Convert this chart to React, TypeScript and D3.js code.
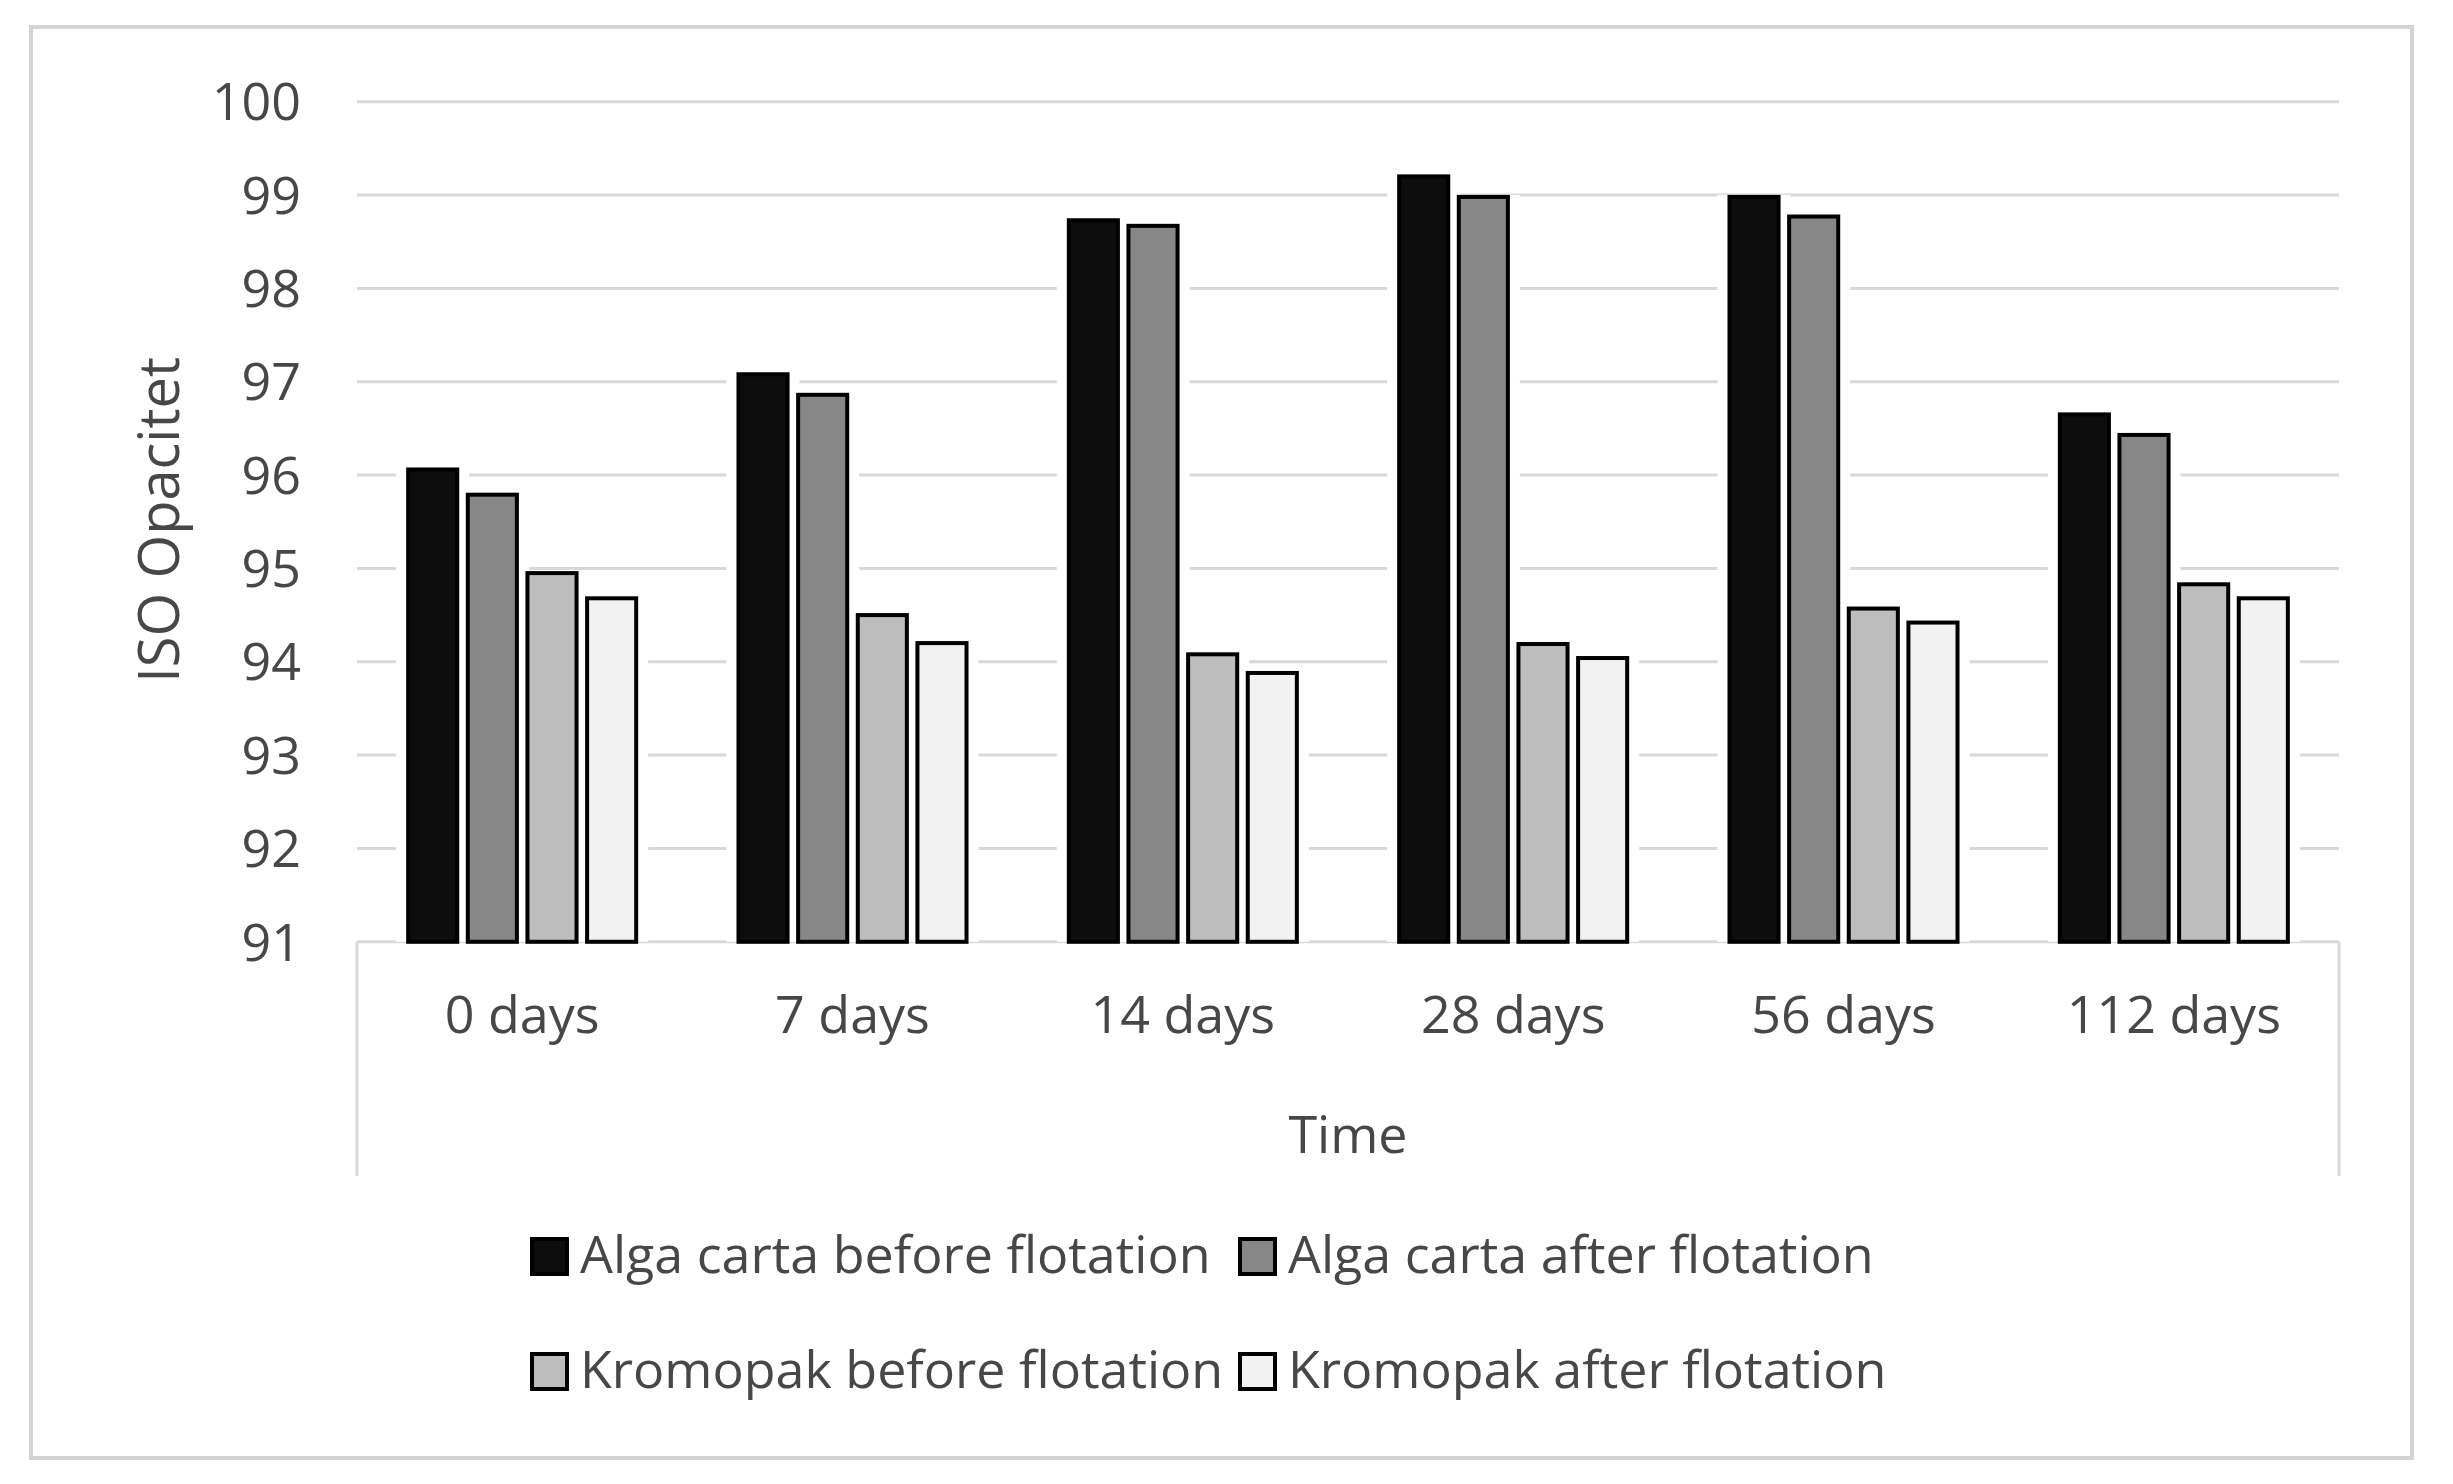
import React from "react";
import * as d3 from "d3";

const categories = ["0 days", "7 days", "14 days", "28 days", "56 days", "112 days"];
const seriesNames = [
  "Alga carta before flotation",
  "Alga carta after flotation",
  "Kromopak before flotation",
  "Kromopak after flotation",
];
const algaBefore = [96.06, 97.08, 98.73, 99.2, 98.98, 96.65];
const algaAfter = [95.79, 96.86, 98.67, 98.98, 98.77, 96.43];
const kromopakBefore = [94.95, 94.5, 94.08, 94.19, 94.57, 94.83];
const kromopakAfter = [94.68, 94.2, 93.88, 94.04, 94.42, 94.68];
const seriesValues = [algaBefore, algaAfter, kromopakBefore, kromopakAfter];
const seriesColors = ["#0d0d0d", "#878787", "#bdbdbd", "#f2f2f2"];
const yTicks = [91, 92, 93, 94, 95, 96, 97, 98, 99, 100];
const yTitle = "ISO Opacitet";
const xTitle = "Time";

const W = 2453;
const H = 1484;
const FONT = "'Open Sans', 'Noto Sans', sans-serif";
const TEXT = "#474747";

export default function App() {
  const left = 357;
  const right = 2339;
  const top = 101.7;
  const bottom = 941.8;

  const y = d3.scaleLinear().domain([91, 100]).range([bottom, top]);
  const x0 = d3
    .scaleBand<string>()
    .domain(categories)
    .range([left, right])
    .paddingInner(0.2976)
    .paddingOuter(0.1488);
  const x1 = d3
    .scaleBand<number>()
    .domain(d3.range(seriesNames.length))
    .range([0, x0.bandwidth()])
    .paddingInner(0.11)
    .paddingOuter(0);

  const legendCols = [530, 1238];
  const legendRows = [1273, 1388];

  return (
    <svg
      width={W}
      height={H}
      style={{ position: "absolute", left: 0, top: 0, background: "#fff" }}
      fontFamily={FONT}
    >
      <rect x={0} y={0} width={W} height={H} fill="#fff" />
      <rect x={31} y={27} width={2381} height={1431} fill="#fff" stroke="#d4d4d4" strokeWidth={4} />

      {/* gridlines */}
      {yTicks.map((t) => (
        <line key={"g" + t} x1={left} x2={right} y1={y(t)} y2={y(t)} stroke="#d9d9d9" strokeWidth={3} />
      ))}

      {/* category axis box */}
      <line x1={left} x2={left} y1={bottom} y2={1176} stroke="#d9d9d9" strokeWidth={3} />
      <line x1={right} x2={right} y1={bottom} y2={1176} stroke="#d9d9d9" strokeWidth={3} />

      {/* halos */}
      {categories.map((c, i) =>
        seriesValues.map((vals, s) => (
          <rect
            key={`h${i}-${s}`}
            x={(x0(c) as number) + (x1(s) as number) - 10}
            y={y(vals[i]) - 2}
            width={x1.bandwidth() + 20}
            height={y(91) - y(vals[i]) + 2}
            fill="#fff"
          />
        ))
      )}

      {/* bars */}
      {categories.map((c, i) =>
        seriesValues.map((vals, s) => (
          <rect
            key={`b${i}-${s}`}
            x={(x0(c) as number) + (x1(s) as number) + 2}
            y={y(vals[i])}
            width={x1.bandwidth() - 4}
            height={y(91) - y(vals[i])}
            fill={seriesColors[s]}
            stroke="#000"
            strokeWidth={4}
          />
        ))
      )}

      {/* y tick labels */}
      {yTicks.map((t) => (
        <text key={"t" + t} x={301} y={y(t)} dy="0.36em" textAnchor="end" fontSize={52} fill={TEXT}>
          {t}
        </text>
      ))}

      {/* x category labels */}
      {categories.map((c) => (
        <text
          key={"c" + c}
          x={(x0(c) as number) + x0.bandwidth() / 2}
          y={1033}
          textAnchor="middle"
          fontSize={52}
          fill={TEXT}
        >
          {c}
        </text>
      ))}

      {/* axis titles */}
      <text x={(left + right) / 2} y={1153} textAnchor="middle" fontSize={52} fill={TEXT}>
        {xTitle}
      </text>
      <text
        transform={`translate(179, 520) rotate(-90)`}
        textAnchor="middle"
        fontSize={56}
        fill={TEXT}
      >
        {yTitle}
      </text>

      {/* legend */}
      {seriesNames.map((name, s) => {
        const lx = legendCols[s % 2];
        const ly = legendRows[Math.floor(s / 2)];
        return (
          <g key={"l" + s}>
            <rect
              x={lx + 2}
              y={ly - 34}
              width={35}
              height={35}
              fill={seriesColors[s]}
              stroke="#000"
              strokeWidth={4}
            />
            <text x={lx + 50} y={ly} fontSize={52} fill={TEXT}>
              {name}
            </text>
          </g>
        );
      })}
    </svg>
  );
}
